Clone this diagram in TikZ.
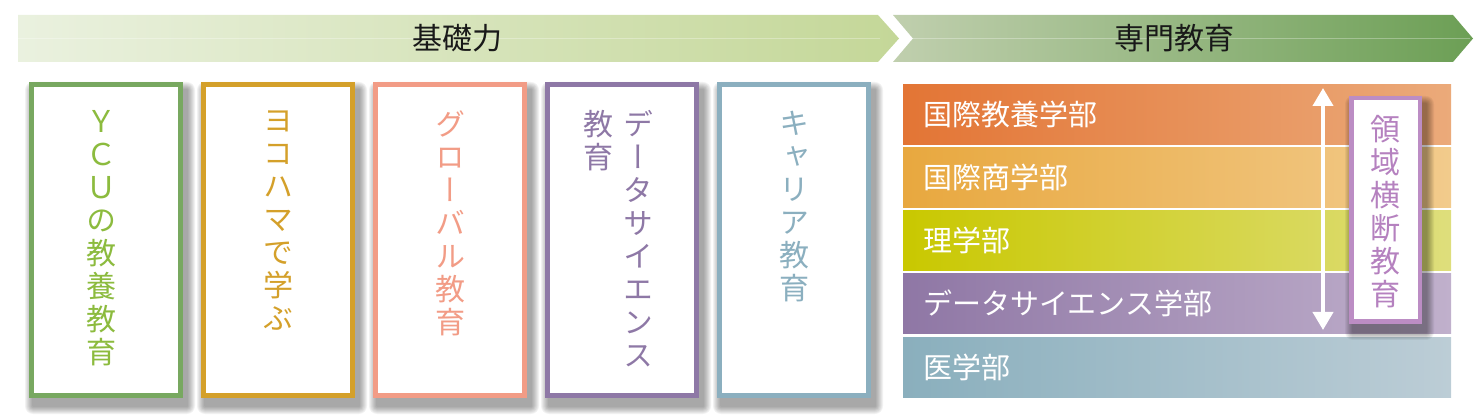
\documentclass[tikz,border=0pt]{standalone}
\usepackage{fontspec}
\newfontfamily\jp{Noto Sans CJK JP}
\newfontfamily\jpv[RawFeature=+vert]{Noto Sans CJK JP}
\usetikzlibrary{arrows.meta, positioning}
\definecolor{yculine}{HTML}{78A860}
\definecolor{ycutext}{HTML}{8CBB3E}
\definecolor{yokohama}{HTML}{D4A02A}
\definecolor{global}{HTML}{F29C86}
\definecolor{data}{HTML}{8E78A6}
\definecolor{career}{HTML}{8BAFBF}
\definecolor{cross}{HTML}{BC8DC4}
\definecolor{crosstext}{HTML}{B581BF}
\tikzstyle{box} = [draw, line width=5pt, fill=white, inner sep=0pt, minimum width=149pt, minimum height=311pt]
\tikzstyle{vtext} = [inner sep=0pt, align=center, anchor=north, font=\jpv\fontsize{30}{33}\selectfont]
\tikzstyle{bar} = [inner sep=0pt, anchor=north west, minimum width=548pt, minimum height=60pt]
\tikzstyle{barlabel} = [inner sep=0pt, anchor=west, text=white, font=\jp\fontsize{29}{33}\selectfont]
\tikzstyle{banner} = [inner sep=0pt, text=black!90, font=\jp\fontsize{30}{33}\selectfont]
\tikzstyle{arrow} = [{Triangle[width=20pt,length=18pt]}-{Triangle[width=20pt,length=18pt]}, white, line width=4pt]
% soft shadow under a box given by its outer corners
\newcommand{\softshadow}[4]{%
  \foreach \k in {1,...,8} {
    \fill[black, opacity=0.05, rounded corners={(9-\k)*1pt}]
      ({#1+4-9+\k},{#2+8-9+\k}) rectangle ({#3+4+9-\k},{#4+8+9-\k});
  }}

\begin{document}
\begin{tikzpicture}[x=1pt,y=-1pt]
\useasboundingbox (0,0) rectangle (1483,419);
% banner
\shade[left color={rgb,255:red,234;green,241;blue,223}, right color={rgb,255:red,196;green,215;blue,152}] (18,15) -- (878,15) -- (899,38.5) -- (878,62) -- (18,62) -- cycle;
\shade[left color={rgb,255:red,192;green,207;blue,174}, right color={rgb,255:red,108;green,159;blue,85}] (893,15) -- (1453,15) -- (1473,38.5) -- (1453,62) -- (893,62) -- (913,38.5) -- cycle;
\draw[white, opacity=0.3, line width=1pt] (18,38.5) -- (880,38.5);
\draw[white, opacity=0.3, line width=1pt] (912,38.5) -- (1470,38.5);
\node[banner] (basic) at (457,38.5) {基礎力};
\node[banner] (major) at (1174,38.5) {専門教育};
% left boxes
\foreach \c in {106,278,450,622,794} {\softshadow{\c-77}{82}{\c+77}{398}}
\node[box, draw=yculine] (ycu) at (106,240) {};
\node[box, draw=yokohama] (yoko) at (278,240) {};
\node[box, draw=global] (glob) at (450,240) {};
\node[box, draw=data] (ds) at (622,240) {};
\node[box, draw=career] (car) at (794,240) {};
\node[vtext, text=ycutext, xshift=-5pt, below=28.5pt of ycu.north] (ycu-t) {Ｙ\\Ｃ\\Ｕ\\の\\教\\養\\教\\育};
\node[vtext, text=yokohama, below=28.5pt of yoko.north] (yoko-t) {ヨ\\コ\\ハ\\マ\\で\\学\\ぶ};
\node[vtext, text=global, below=28.5pt of glob.north] (glob-t) {グ\\ロ\\ー\\バ\\ル\\教\\育};
\node[vtext, text=data, xshift=16pt, below=28.5pt of ds.north] (ds-t) {デ\\ー\\タ\\サ\\イ\\エ\\ン\\ス};
\node[vtext, text=data, xshift=-24pt, below=28.5pt of ds.north] (ds-t2) {教\\育};
\node[vtext, text=career, below=28.5pt of car.north] (car-t) {キ\\ャ\\リ\\ア\\教\\育};
% faculties
\node[bar, left color={rgb,255:red,227;green,117;blue,53}, right color={rgb,255:red,235;green,170;blue,122}] (f1) at (903,84) {};
\node[bar, left color={rgb,255:red,232;green,168;blue,63}, right color={rgb,255:red,242;green,203;blue,140}] (f2) at (903,147) {};
\node[bar, left color={rgb,255:red,201;green,200;blue,0}, right color={rgb,255:red,222;green,222;blue,124}] (f3) at (903,210) {};
\node[bar, left color={rgb,255:red,143;green,119;blue,165}, right color={rgb,255:red,192;green,176;blue,204}] (f4) at (903,273) {};
\node[bar, left color={rgb,255:red,138;green,175;blue,189}, right color={rgb,255:red,188;green,205;blue,214}] (f5) at (903,337) {};
\node[barlabel, right=20pt of f1.west] (f1-t) {国際教養学部};
\node[barlabel, right=20pt of f2.west] (f2-t) {国際商学部};
\node[barlabel, right=20pt of f3.west] (f3-t) {理学部};
\node[barlabel, right=20pt of f4.west] (f4-t) {データサイエンス学部};
\node[barlabel, right=20pt of f5.west] (f5-t) {医学部};
% cross-field
\coordinate (up) at (1323,88);
\coordinate (down) at (1323,330);
\draw[arrow] (up) -- (down);
\softshadow{1349}{96}{1422}{324}
\node[box, draw=cross, line width=4.5pt, minimum width=68.5pt, minimum height=223.5pt] (cr) at (1385.5,210) {};
\node[vtext, text=crosstext, below=18.75pt of cr.north] (cr-t) {領\\域\\横\\断\\教\\育};
\end{tikzpicture}
\end{document}
